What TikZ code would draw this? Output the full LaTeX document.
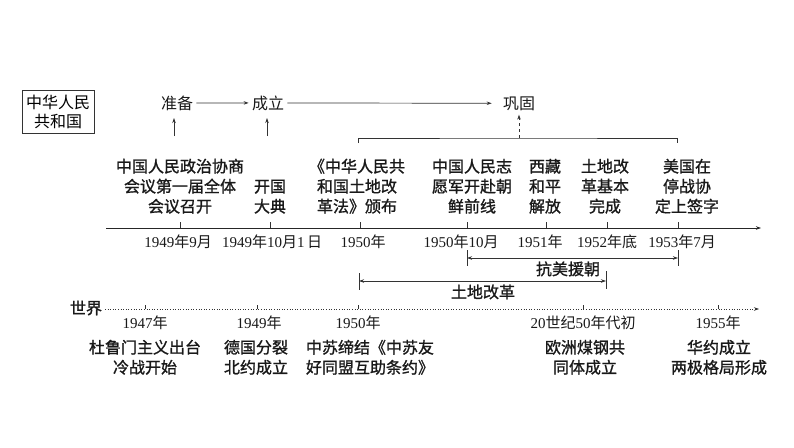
\documentclass[tikz,border=0pt]{standalone}
\usepackage{fontspec}
\setmainfont{Liberation Serif}
\newfontfamily\cjk{Noto Sans CJK SC}
\newfontfamily\cjkb[FakeBold=1.2]{Noto Sans CJK SC}
\usetikzlibrary{arrows.meta}
\newcommand{\cnyear}{{\cjk 年}}
\newcommand{\cnmonth}{{\cjk 月}}
\newcommand{\cnday}{{\cjk 日}}
\newcommand{\cnend}{{\cjk 底}}

\begin{document}
\begin{tikzpicture}[x=1pt, y=-1pt, >={Stealth[length=5pt, width=3.5pt]}, line width=0.7pt,
    ev/.style={align=center, font=\cjkb\fontsize{16}{20}\selectfont, inner sep=0pt, text=black!90},
    lab/.style={font=\cjk\fontsize{16}{20}\selectfont, inner sep=3pt, anchor=base, text=black!90},
    labb/.style={lab, font=\cjkb\fontsize{16}{20}\selectfont},
    dt/.style={font=\fontsize{15}{18}\selectfont, inner sep=0pt, anchor=base, text=black!90},
    tickln/.style={draw=black!80, line width=0.6pt}]

    \useasboundingbox (0,0) rectangle (794,447);

    % 中华人民共和国
    \node[draw=black!80, align=center, font=\cjk\fontsize{16}{19}\selectfont, minimum width=72pt, minimum height=43pt, inner sep=1pt] (prc) at (58,111.5) {中华人民\\共和国};
    \node[lab] (zb) at (177,109) {准备};
    \node[lab] (cl) at (268,109) {成立};
    \node[lab] (gg) at (519,109) {巩固};
    \draw[->, draw=black!80] (zb) -- (cl);
    \draw[->, draw=black!80, shorten >=8pt] (cl) -- (gg);

    \coordinate (zbup) at (174,136);
    \coordinate (zbtip) at (174,118);
    \coordinate (clup) at (267,136);
    \coordinate (cltip) at (267,118);
    \draw[->, draw=black!80] (zbup) -- (zbtip);
    \draw[->, draw=black!80] (clup) -- (cltip);

    % bracket
    \coordinate (brL) at (358,143);
    \coordinate (brR) at (677,143);
    \coordinate (brtop) at (519,138);
    \draw[draw=black!80] (brL) |- (brtop) -| (brR);
    \draw[->, dashed, draw=black!80, shorten >=1pt] (brtop) -- (gg);

    % events
    \node[ev, anchor=south] (e1) at (180,214) {中国人民政治协商\\会议第一届全体\\会议召开};
    \node[ev, anchor=south] (e2) at (270,214) {开国\\大典};
    \node[ev, anchor=south] (e3) at (357,214) {《中华人民共\\和国土地改\\革法》颁布};
    \node[ev, anchor=south] (e4) at (472,214) {中国人民志\\愿军开赴朝\\鲜前线};
    \node[ev, anchor=south] (e5) at (545,214) {西藏\\和平\\解放};
    \node[ev, anchor=south] (e6) at (605,214) {土地改\\革基本\\完成};
    \node[ev, anchor=south] (e7) at (687,214) {美国在\\停战协\\定上签字};

    % axis
    \coordinate (ax0) at (106,228);
    \coordinate (ax1) at (761,228);
    \draw[->, draw=black!85] (ax0) -- (ax1);
    \foreach \x/\n in {180/a, 270/b, 360/c, 467/d, 546/e, 607/f, 678/g}{
        \coordinate (t\n) at (\x,228);
        \draw[tickln] (t\n) -- ++(0,-6);
    }
    \node[dt] (d1) at (178,247.5) {1949\cnyear9\cnmonth};
    \node[dt] (d2) at (272,247.5) {1949\cnyear10\cnmonth1\,\cnday};
    \node[dt] (d3) at (363,247.5) {1950\cnyear};
    \node[dt] (d4) at (461,247.5) {1950\cnyear10\cnmonth};
    \node[dt] (d5) at (540,247.5) {1951\cnyear};
    \node[dt] (d6) at (607,247.5) {1952\cnyear\cnend};
    \node[dt] (d7) at (682,247.5) {1953\cnyear7\cnmonth};

    % spans
    \coordinate (kL) at (467,258);
    \coordinate (kR) at (678,258);
    \draw[tickln] (kL) ++(0,-8) -- ++(0,16);
    \draw[tickln] (kR) ++(0,-8) -- ++(0,16);
    \draw[<->, draw=black!80] (kL) -- (kR);
    \node[labb] (kmyc) at (568,275) {抗美援朝};

    \coordinate (tL) at (359,281);
    \coordinate (tR) at (606,281);
    \draw[tickln] (tL) ++(0,-8) -- ++(0,17);
    \draw[tickln] (tR) ++(0,-10) -- ++(0,18);
    \draw[<->, draw=black!80] (tL) -- (tR);
    \node[labb] (tdgg) at (483,298) {土地改革};

    % 世界
    \node[labb] (sj) at (86,314) {世界};
    \coordinate (w0) at (105,309);
    \coordinate (w1) at (759,309);
    \draw[->, dotted, draw=black!80, line width=0.6pt] (w0) -- (w1);
    \foreach \x/\n in {145/a, 257/b, 358/c, 583/d, 718/e}{
        \coordinate (w\n) at (\x,309);
        \draw[tickln] (w\n) -- ++(0,-4);
    }
    \node[dt] (y1) at (145,328) {1947\cnyear};
    \node[dt] (y2) at (259,328) {1949\cnyear};
    \node[dt] (y3) at (358,328) {1950\cnyear};
    \node[dt] (y4) at (583,328) {20{\cjk 世纪}50\cnyear{\cjk 代初}};
    \node[dt] (y5) at (718,328) {1955\cnyear};

    \node[ev, anchor=north] (s1) at (145,339.5) {杜鲁门主义出台\\冷战开始};
    \node[ev, anchor=north] (s2) at (256,339.5) {德国分裂\\北约成立};
    \node[ev, anchor=north] (s3) at (370,339.5) {中苏缔结《中苏友\\好同盟互助条约》};
    \node[ev, anchor=north] (s4) at (585,339.5) {欧洲煤钢共\\同体成立};
    \node[ev, anchor=north] (s5) at (719,339.5) {华约成立\\两极格局形成};
\end{tikzpicture}
\end{document}
